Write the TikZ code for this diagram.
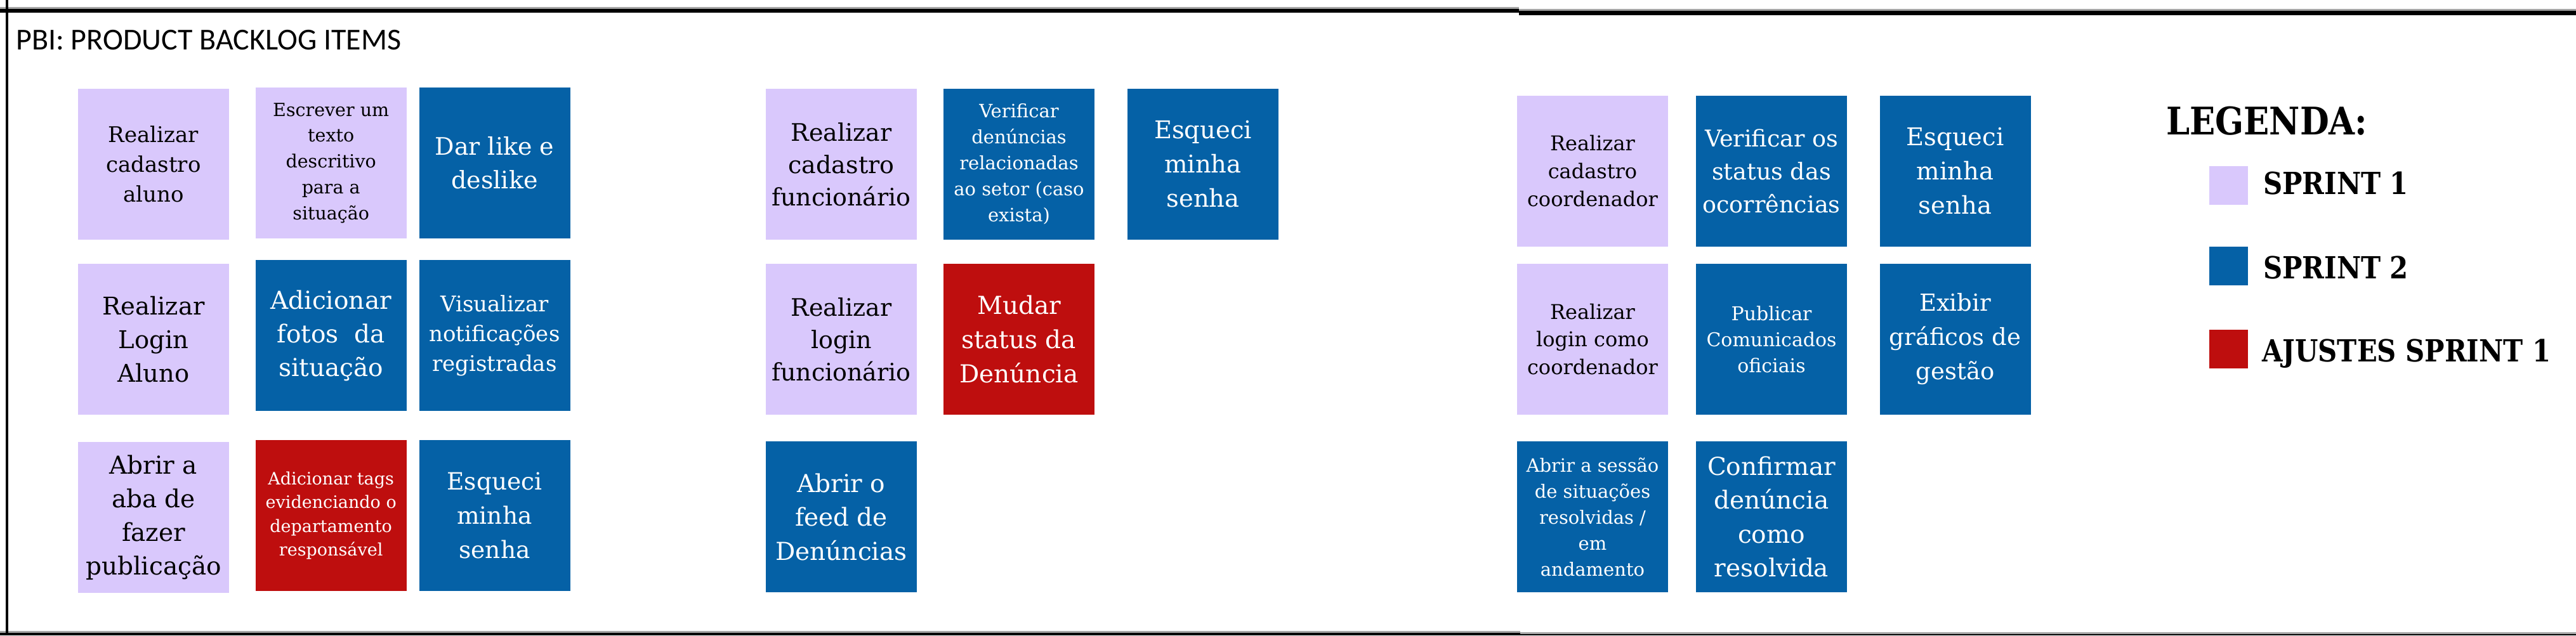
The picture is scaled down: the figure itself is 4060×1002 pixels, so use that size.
\documentclass[tikz,border=0pt]{standalone}
\usepackage{graphicx}
\usepackage{fontspec}
\setmainfont{DejaVu Serif}
\newfontfamily\titlefont{Carlito}
\definecolor{sprA}{HTML}{D9C8FC}
\definecolor{sprB}{HTML}{0561A6}
\definecolor{adjR}{HTML}{BE0E0E}
\definecolor{lineGray}{HTML}{A6A6A6}
\newcommand\fsz[2]{\fontsize{#1}{#2}\selectfont}
\tikzset{
  card/.style={minimum width=238pt, minimum height=238pt, inner sep=0pt, align=center, draw=none},
  sprint1/.style={card, fill=sprA, text=black},
  sprint2/.style={card, fill=sprB, text=white},
  ajuste/.style={card, fill=adjR, text=white},
  legsq/.style={minimum width=61pt, minimum height=61pt, inner sep=0pt},
  legtxt/.style={anchor=base west, inner sep=0pt, font=\bfseries\fsz{48}{56}},
  blackrule/.style={black},
  grayrule/.style={lineGray, line width=3pt},
}
\begin{document}
\begin{tikzpicture}[x=1pt,y=-1pt]
\useasboundingbox (0,0) rectangle (4060,1002);
% frame
\coordinate (tl1) at (0,12.5);   \coordinate (tr1) at (2394,12.5);
\coordinate (tl2) at (0,17);     \coordinate (tr2) at (2394,17);
\coordinate (tl3) at (2394,15.5);\coordinate (tr3) at (4060,15.5);
\coordinate (tl4) at (2394,20.5);\coordinate (tr4) at (4060,20.5);
\coordinate (bl1) at (0,996.5);  \coordinate (br1) at (2396,996.5);
\coordinate (bl2) at (0,1000);   \coordinate (br2) at (2396,1000);
\coordinate (bl3) at (2396,998.5);\coordinate (br3) at (4060,998.5);
\coordinate (bl4) at (2396,1001);\coordinate (br4) at (4060,1001);
\coordinate (vt) at (10.5,0);    \coordinate (vb) at (10.5,1002);
\draw[grayrule] (tl1) -- (tr1);
\draw[blackrule, line width=6pt] (tl2) -- (tr2);
\draw[grayrule] (tl3) -- (tr3);
\draw[blackrule, line width=7pt] (tl4) -- (tr4);
\draw[grayrule] (bl1) -- (br1);
\draw[blackrule, line width=4pt] (bl2) -- (br2);
\draw[grayrule] (bl3) -- (br3);
\draw[blackrule, line width=2.5pt] (bl4) -- (br4);
\draw[blackrule, line width=4pt] (vt) -- (vb);

\node[anchor=base west, inner sep=0pt, font=\titlefont\fsz{48}{56}] (title) at (25,78) {PBI: PRODUCT BACKLOG ITEMS};

% group 1
\node[sprint1, font=\fsz{34}{46.7}] (a1) at (242,259) {Realizar\\cadastro\\aluno};
\node[sprint1, font=\fsz{28.5}{40.8}] (a2) at (521.7,257) {Escrever um\\texto\\descritivo\\para a\\situação};
\node[sprint2, font=\fsz{38}{53}] (a3) at (779.5,257) {Dar like e\\deslike};
\node[sprint1, font=\fsz{38.5}{53}] (b1) at (242,535) {Realizar\\Login\\Aluno};
\node[sprint2, font=\fsz{39}{53}] (b2) at (521.7,529) {Adicionar\\fotos\ \ da\\situação};
\node[sprint2, font=\fsz{34}{47}] (b3) at (779.5,529) {Visualizar\\notificações\\registradas};
\node[sprint1, font=\fsz{39}{53}] (c1) at (242,816) {Abrir a\\aba de\\fazer\\publicação};
\node[ajuste, font=\fsz{27}{37.5}] (c2) at (521.7,813) {Adicionar tags\\evidenciando o\\departamento\\responsável};
\node[sprint2, font=\fsz{37.5}{54}] (c3) at (779.5,813) {Esqueci\\minha\\senha};

% group 2
\node[sprint1, font=\fsz{38}{51}] (d1) at (1326,259) {Realizar\\cadastro\\funcionário};
\node[sprint2, font=\fsz{29}{41}] (d2) at (1606,259) {Verificar\\denúncias\\relacionadas\\ao setor (caso\\exista)};
\node[sprint2, font=\fsz{38.5}{54}] (d3) at (1896,259) {Esqueci\\minha\\senha};
\node[sprint1, font=\fsz{38}{51}] (e1) at (1326,535) {Realizar\\login\\funcionário};
\node[ajuste, font=\fsz{39}{54}] (e2) at (1606,535) {Mudar\\status da\\Denúncia};
\node[sprint2, font=\fsz{39}{53.5}] (f1) at (1326,815) {Abrir o\\feed de\\Denúncias};

% group 3
\node[sprint1, font=\fsz{32}{44}] (g1) at (2510,270) {Realizar\\cadastro\\coordenador};
\node[sprint2, font=\fsz{36.5}{52}] (g2) at (2792,270) {Verificar os\\status das\\ocorrências};
\node[sprint2, font=\fsz{38.5}{54}] (g3) at (3081.5,270) {Esqueci\\minha\\senha};
\node[sprint1, font=\fsz{32}{43.5}] (h1) at (2510,535) {Realizar\\login como\\coordenador};
\node[sprint2, font=\fsz{30}{41}] (h2) at (2792,535) {Publicar\\Comunicados\\oficiais};
\node[sprint2, font=\fsz{37}{54}] (h3) at (3081.5,535) {Exibir\\gráficos de\\gestão};
\node[sprint2, font=\fsz{29}{41}] (i1) at (2510,815) {Abrir a sessão\\de situações\\resolvidas /\\em\\andamento};
\node[sprint2, font=\fsz{39}{53.5}] (i2) at (2792,815) {Confirmar\\denúncia\\como\\resolvida};

% legend
\node[anchor=base west, inner sep=0pt, font=\bfseries\fsz{60}{70}] (leg) at (3414,212) {\scalebox{0.88}[1]{LEGENDA:}};
\node[legsq, fill=sprA] (l1) at (3512.5,292.5) {};
\node[legtxt] (t1) at (3567,306.7) {\scalebox{0.87}[1]{SPRINT 1}};
\node[legsq, fill=sprB] (l2) at (3512.5,419.5) {};
\node[legtxt] (t2) at (3567,439) {\scalebox{0.87}[1]{SPRINT 2}};
\node[legsq, fill=adjR] (l3) at (3512.5,550.5) {};
\node[legtxt] (t3) at (3565,570) {\scalebox{0.87}[1]{AJUSTES SPRINT 1}};
\end{tikzpicture}
\end{document}
